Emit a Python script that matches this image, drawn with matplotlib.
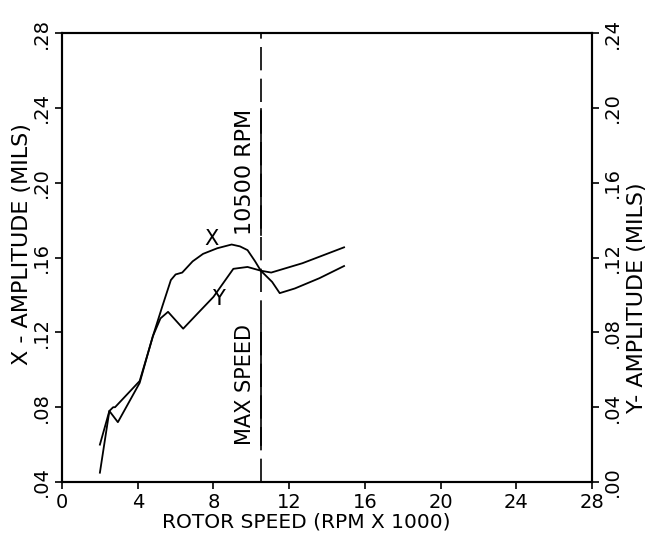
import numpy as np
import matplotlib
matplotlib.use('Agg')
import matplotlib.pyplot as plt

# rotor speed (rpm x 1000) and amplitudes
xSpeed = [2.0, 2.5, 2.7, 2.8, 4.1, 4.6, 4.8, 5.3, 5.75, 6.0, 6.35, 6.9, 7.45, 8.2, 8.96,
          9.4, 9.8, 10.2, 10.5, 11.1, 11.5, 12.3, 13.6, 14.9]
xAmp = [0.045, 0.078, 0.080, 0.080, 0.094, 0.111, 0.118, 0.134, 0.148, 0.151, 0.152, 0.158,
        0.162, 0.165, 0.167, 0.166, 0.164, 0.158, 0.153, 0.147, 0.141, 0.1435, 0.149, 0.1555]

ySpeed = [2.0, 2.5, 2.95, 4.1, 4.6, 4.8, 5.2, 5.6, 6.4, 7.15, 8.0, 9.05, 9.8, 10.5,
          11.05, 12.7, 14.9]
yAmp = [0.020, 0.038, 0.032, 0.053, 0.071, 0.078, 0.0875, 0.091, 0.082, 0.090, 0.099,
        0.114, 0.115, 0.113, 0.112, 0.117, 0.1255]

maxSpeed = 10.5
xTicks = [0, 4, 8, 12, 16, 20, 24, 28]
leftTicks = [0.04, 0.08, 0.12, 0.16, 0.20, 0.24, 0.28]
rightTicks = [0.00, 0.04, 0.08, 0.12, 0.16, 0.20, 0.24]

plt.rcParams['font.family'] = 'DejaVu Sans'
fs = 14

fig = plt.figure(figsize=(6.6, 5.35), dpi=100)
ax = fig.add_axes([0.094, 0.099, 0.803, 0.839])
ax2 = ax.twinx()

ax.plot(xSpeed, xAmp, color='black', lw=1.3)
ax2.plot(ySpeed, yAmp, color='black', lw=1.3)

ax.set_xlim(0, 28)
ax.set_ylim(0.04, 0.28)
ax2.set_ylim(0.0, 0.24)

ax.set_xticks(xTicks)
ax.set_xticklabels([str(t) for t in xTicks], fontsize=fs)
ax.set_yticks(leftTicks)
ax.set_yticklabels([f'{v:.2f}'[1:] for v in leftTicks], fontsize=fs, rotation=90, va='center')
ax2.set_yticks(rightTicks)
ax2.set_yticklabels([f'{v:.2f}'[1:] for v in rightTicks], fontsize=fs, rotation=90, va='center')

for a in (ax, ax2):
    a.tick_params(direction='out', length=5, width=1.2, pad=3)
    for s in a.spines.values():
        s.set_linewidth(1.5)

ax.set_xlabel('ROTOR SPEED (RPM X 1000)', fontsize=14.5)
ax.xaxis.set_label_coords(0.46, -0.068)
ax.set_ylabel('X - AMPLITUDE (MILS)', fontsize=16)
ax.yaxis.set_label_coords(-0.056, 0.53)
ax2.set_ylabel('Y- AMPLITUDE (MILS)', fontsize=16)
ax2.yaxis.set_label_coords(1.066, 0.41)

# max speed marker
ax.axvline(maxSpeed, color='black', lw=1.2, dashes=(14, 5))
t1 = ax.text(maxSpeed - 0.3, 0.06, 'MAX SPEED', rotation=90, fontsize=15,
             ha='right', va='bottom')
t2 = ax.text(maxSpeed - 0.3, 0.172, '10500 RPM', rotation=90, fontsize=16,
             ha='right', va='bottom')

ax.text(7.88, 0.170, 'X', fontsize=15, ha='center', va='center')
ax.text(8.25, 0.138, 'Y', fontsize=15, ha='center', va='center')

# underline the rotated labels along the speed line
fig.canvas.draw()
for t in (t1, t2):
    bb = t.get_window_extent().transformed(ax.transData.inverted())
    ax.plot([maxSpeed, maxSpeed], [bb.y0, bb.y1], color='black', lw=1.2)

fig.savefig('out.png', dpi=100)
